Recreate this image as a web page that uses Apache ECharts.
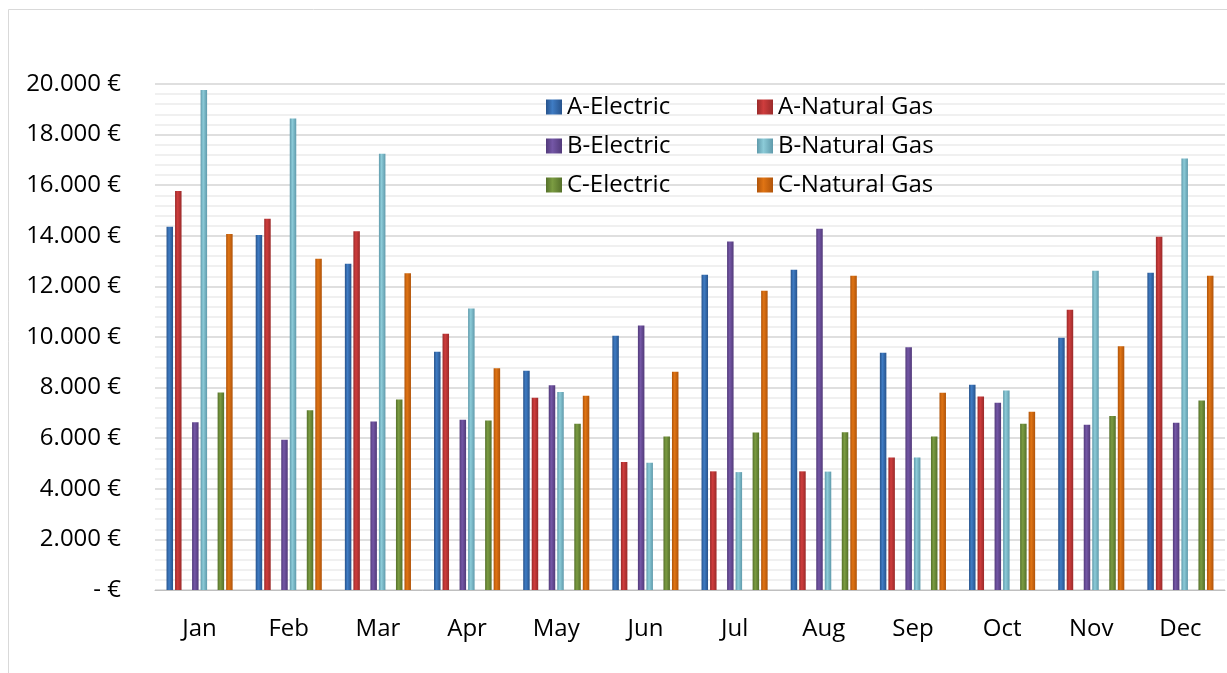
<!DOCTYPE html>
<html>
<head>
<meta charset="utf-8">
<title>Energy costs</title>
<script src="https://cdn.jsdelivr.net/npm/echarts@6/dist/echarts.min.js"></script>
<style>
  html, body { margin: 0; padding: 0; background: #fff; }
  #chart { width: 1227px; height: 673px; }
</style>
</head>
<body>
<div id="chart"></div>
<script>
var months = ['Jan', 'Feb', 'Mar', 'Apr', 'May', 'Jun', 'Jul', 'Aug', 'Sep', 'Oct', 'Nov', 'Dec'];

var aElectric   = [14360, 14030, 12900, 9420, 8670, 10050, 12460, 12660, 9380, 8110, 9970, 12540];
var aNaturalGas = [15770, 14670, 14180, 10130, 7600, 5060, 4690, 4690, 5240, 7650, 11080, 13960];
var bElectric   = [6630, 5940, 6660, 6730, 8090, 10450, 13770, 14280, 9590, 7400, 6530, 6610];
var bNaturalGas = [19760, 18640, 17240, 11130, 7830, 5030, 4660, 4680, 5240, 7890, 12620, 17060];
var cElectric   = [7810, 7100, 7530, 6700, 6570, 6070, 6230, 6240, 6070, 6570, 6880, 7490];
var cNaturalGas = [14070, 13090, 12520, 8760, 7680, 8630, 11830, 12420, 7800, 7050, 9630, 12420];

var yTicks = { min: 0, max: 20000, step: 2000 };

var myChart = echarts.init(document.getElementById('chart'));

// bar look: dark edge, lighter middle, dark edge
function barColor(dark, light) {
  return new echarts.graphic.LinearGradient(0, 0, 1, 0, [
    {offset: 0, color: dark},
    {offset: 0.4, color: light},
    {offset: 1, color: dark}
  ]);
}

function bar(name, data, dark, light) {
  return {
    name: name,
    type: 'bar',
    barWidth: 6.5,
    barGap: '31%',
    itemStyle: { color: barColor(dark, light) },
    data: data
  };
}

// empty slot between the A, B and C pairs
function spacer() {
  return { name: 'gap', type: 'bar', barWidth: 6.5, barGap: '31%', data: [] };
}

function euro(v) {
  if (v === 0) return '- €';
  return String(v).replace(/\B(?=(\d{3})+(?!\d))/g, '.') + ' €';
}

var font = 'Open Sans';
var legendText = { color: '#000', fontSize: 24, fontFamily: font, lineHeight: 24 };

var option = {
  backgroundColor: '#fff',
  animation: false,
  graphic: [{
    type: 'rect',
    shape: { x: 8.5, y: 9.5, width: 1300, height: 700 },
    style: { fill: 'none', stroke: '#d9d9d9', lineWidth: 1 },
    silent: true
  }],
  grid: { left: 155, right: 2, top: 84, bottom: 83 },
  legend: [{
    orient: 'vertical',
    left: 541,
    top: 90,
    itemWidth: 16,
    itemHeight: 15,
    itemGap: 15,
    icon: 'rect',
    textStyle: legendText,
    data: ['A-Electric', 'B-Electric', 'C-Electric']
  }, {
    orient: 'vertical',
    left: 752,
    top: 90,
    itemWidth: 16,
    itemHeight: 15,
    itemGap: 15,
    icon: 'rect',
    textStyle: legendText,
    data: ['A-Natural Gas', 'B-Natural Gas', 'C-Natural Gas']
  }],
  xAxis: {
    type: 'category',
    data: months,
    axisLine: { lineStyle: { color: '#bfbfbf', width: 1 } },
    axisTick: { show: false },
    axisLabel: { color: '#000', fontSize: 24, fontFamily: font, margin: 27 }
  },
  yAxis: {
    type: 'value',
    min: yTicks.min,
    max: yTicks.max,
    interval: yTicks.step,
    axisLine: { show: false },
    axisTick: { show: false },
    axisLabel: { color: '#000', fontSize: 24, fontFamily: font, margin: 34, formatter: euro },
    splitLine: { lineStyle: { color: '#d4d4d4', width: 1.5 } },
    minorTick: { show: false, splitNumber: 5 },
    minorSplitLine: { show: true, lineStyle: { color: '#ececec', width: 1.5 } }
  },
  series: [
    bar('A-Electric', aElectric, '#27538c', '#3f7cc4'),
    bar('A-Natural Gas', aNaturalGas, '#9a2a2a', '#cf3d3d'),
    spacer(),
    bar('B-Electric', bElectric, '#523a7a', '#7457a6'),
    bar('B-Natural Gas', bNaturalGas, '#5f9aab', '#8ccbd8'),
    spacer(),
    bar('C-Electric', cElectric, '#55702a', '#7b9c42'),
    bar('C-Natural Gas', cNaturalGas, '#b0540a', '#e07414')
  ]
};

myChart.setOption(option);
</script>
</body>
</html>
